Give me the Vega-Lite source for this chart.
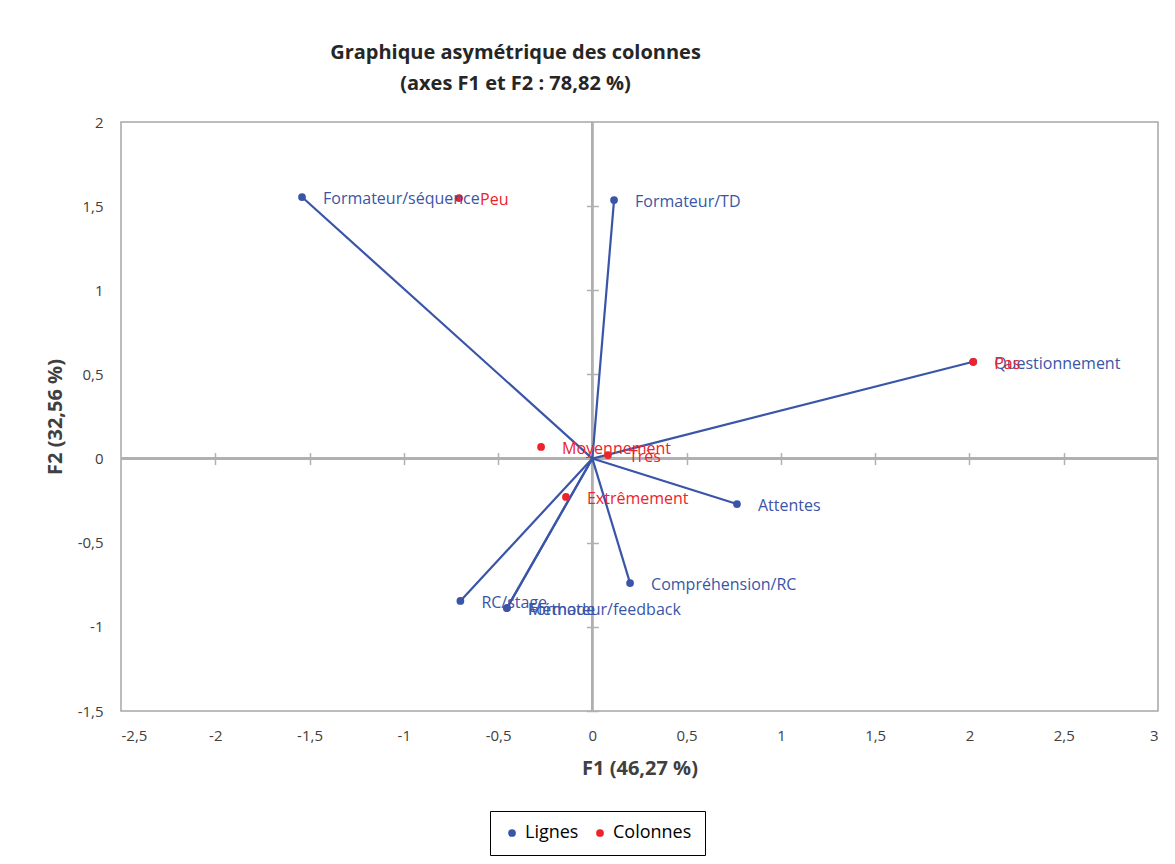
{
  "$schema": "https://vega.github.io/schema/vega-lite/v6.json",
  "width": 1037,
  "height": 589,
  "autosize": {"type": "none"},
  "padding": {"left": 121, "top": 122, "right": 17, "bottom": 153},
  "background": "white",
  "config": {
    "font": "Open Sans",
    "view": {"stroke": "#a6a6a6", "strokeWidth": 1.5},
    "axis": {"grid": false}
  },
  "title": {
    "text": ["Graphique asymétrique des colonnes", "(axes F1 et F2 : 78,82 %)"],
    "font": "Open Sans",
    "fontSize": 20,
    "fontWeight": "bold",
    "color": "#262626",
    "anchor": "middle",
    "dx": -124,
    "offset": 21,
    "lineHeight": 31
  },
  "data": {
    "values": [
      {"label": "Formateur/séquence", "type": "Lignes", "F1": -1.54, "F2": 1.554},
      {"label": "Formateur/TD", "type": "Lignes", "F1": 0.115, "F2": 1.536},
      {"label": "Questionnement", "type": "Lignes", "F1": 2.02, "F2": 0.575},
      {"label": "Attentes", "type": "Lignes", "F1": 0.767, "F2": -0.27},
      {"label": "Compréhension/RC", "type": "Lignes", "F1": 0.2, "F2": -0.74},
      {"label": "RC/stage", "type": "Lignes", "F1": -0.7, "F2": -0.846},
      {"label": "Méthode", "type": "Lignes", "F1": -0.453, "F2": -0.888},
      {"label": "Formateur/feedback", "type": "Lignes", "F1": -0.453, "F2": -0.888},
      {"label": "Peu", "type": "Colonnes", "F1": -0.707, "F2": 1.548},
      {"label": "Pas", "type": "Colonnes", "F1": 2.02, "F2": 0.575},
      {"label": "Moyennement", "type": "Colonnes", "F1": -0.272, "F2": 0.069},
      {"label": "Très", "type": "Colonnes", "F1": 0.083, "F2": 0.021},
      {"label": "Extrêmement", "type": "Colonnes", "F1": -0.14, "F2": -0.228}
    ]
  },
  "resolve": {"axis": {"x": "independent", "y": "independent"}},
  "layer": [
    {
      "mark": {"type": "rule", "color": "#b0b0b0", "strokeWidth": 1.5},
      "encoding": {
        "x": {"datum": 0, "type": "quantitative", "scale": {"domain": [-2.5, 3], "nice": false, "zero": false}, "axis": null}
      }
    },
    {
      "mark": {"type": "rule", "color": "#b0b0b0", "strokeWidth": 1.5},
      "encoding": {
        "y": {"datum": 0, "type": "quantitative", "scale": {"domain": [-1.5, 2], "nice": false, "zero": false}, "axis": null}
      }
    },
    {
      "transform": [{"filter": "datum.type === 'Lignes'"}],
      "mark": {"type": "rule", "color": "#3a55a8", "strokeWidth": 2.2},
      "encoding": {
        "x": {
          "field": "F1", "type": "quantitative",
          "scale": {"domain": [-2.5, 3], "nice": false, "zero": false},
          "axis": {
            "orient": "bottom",
            "values": [-2.5, -2, -1.5, -1, -0.5, 0, 0.5, 1, 1.5, 2, 2.5, 3],
            "labelExpr": "replace(toString(datum.value), '.', ',')",
            "domain": false, "ticks": false,
            "labelFontSize": 15, "labelColor": "#404040", "labelPadding": 17,
            "title": "F1 (46,27 %)", "titleFontSize": 20, "titleFontWeight": "bold",
            "titleColor": "#404040", "titlePadding": 15
          }
        },
        "y": {
          "field": "F2", "type": "quantitative",
          "scale": {"domain": [-1.5, 2], "nice": false, "zero": false},
          "axis": {
            "orient": "left",
            "values": [-1.5, -1, -0.5, 0, 0.5, 1, 1.5, 2],
            "labelExpr": "replace(toString(datum.value), '.', ',')",
            "domain": false, "ticks": false,
            "labelFontSize": 15, "labelColor": "#404040", "labelPadding": 18,
            "title": "F2 (32,56 %)", "titleFontSize": 20, "titleFontWeight": "bold",
            "titleColor": "#404040", "titlePadding": 12
          }
        },
        "x2": {"datum": 0},
        "y2": {"datum": 0}
      }
    },
    {
      "mark": {"type": "circle", "size": 60, "opacity": 1},
      "encoding": {
        "x": {
          "field": "F1", "type": "quantitative",
          "axis": {
            "orient": "top", "offset": -342.6,
            "values": [-2, -1.5, -1, -0.5, 0.5, 1, 1.5, 2, 2.5],
            "domain": false, "labels": false, "ticks": true, "tickSize": 12,
            "tickColor": "#b0b0b0", "tickWidth": 1.5, "title": null
          }
        },
        "y": {
          "field": "F2", "type": "quantitative",
          "axis": {
            "orient": "left", "offset": -477.4,
            "values": [-1.5, -1, -0.5, 0.5, 1, 1.5],
            "domain": false, "labels": false, "ticks": true, "tickSize": 12,
            "tickColor": "#b0b0b0", "tickWidth": 1.5, "title": null
          }
        },
        "color": {
          "field": "type", "type": "nominal",
          "scale": {"domain": ["Lignes", "Colonnes"], "range": ["#3a55a8", "#ee2229"]},
          "legend": {
            "title": null, "orient": "none", "direction": "horizontal",
            "legendX": 369, "legendY": 689,
            "strokeColor": "#000000", "fillColor": "white",
            "padding": 13, "symbolType": "circle", "symbolSize": 60,
            "labelFontSize": 18, "labelOffset": 4, "columnPadding": 12,
            "symbolStrokeWidth": 0,
            "encode": {
              "legend": {"update": {"strokeWidth": {"value": 2}}},
              "labels": {"update": {"fill": {"signal": "datum.label === 'Lignes' ? '#3a55a8' : '#ee2229'"}}}
            }
          }
        }
      }
    },
    {
      "mark": {"type": "text", "align": "left", "baseline": "middle", "dx": 21, "dy": 2, "fontSize": 16},
      "encoding": {
        "x": {"field": "F1", "type": "quantitative", "axis": null},
        "y": {"field": "F2", "type": "quantitative", "axis": null},
        "text": {"field": "label"},
        "color": {"field": "type", "type": "nominal", "legend": null}
      }
    }
  ]
}
